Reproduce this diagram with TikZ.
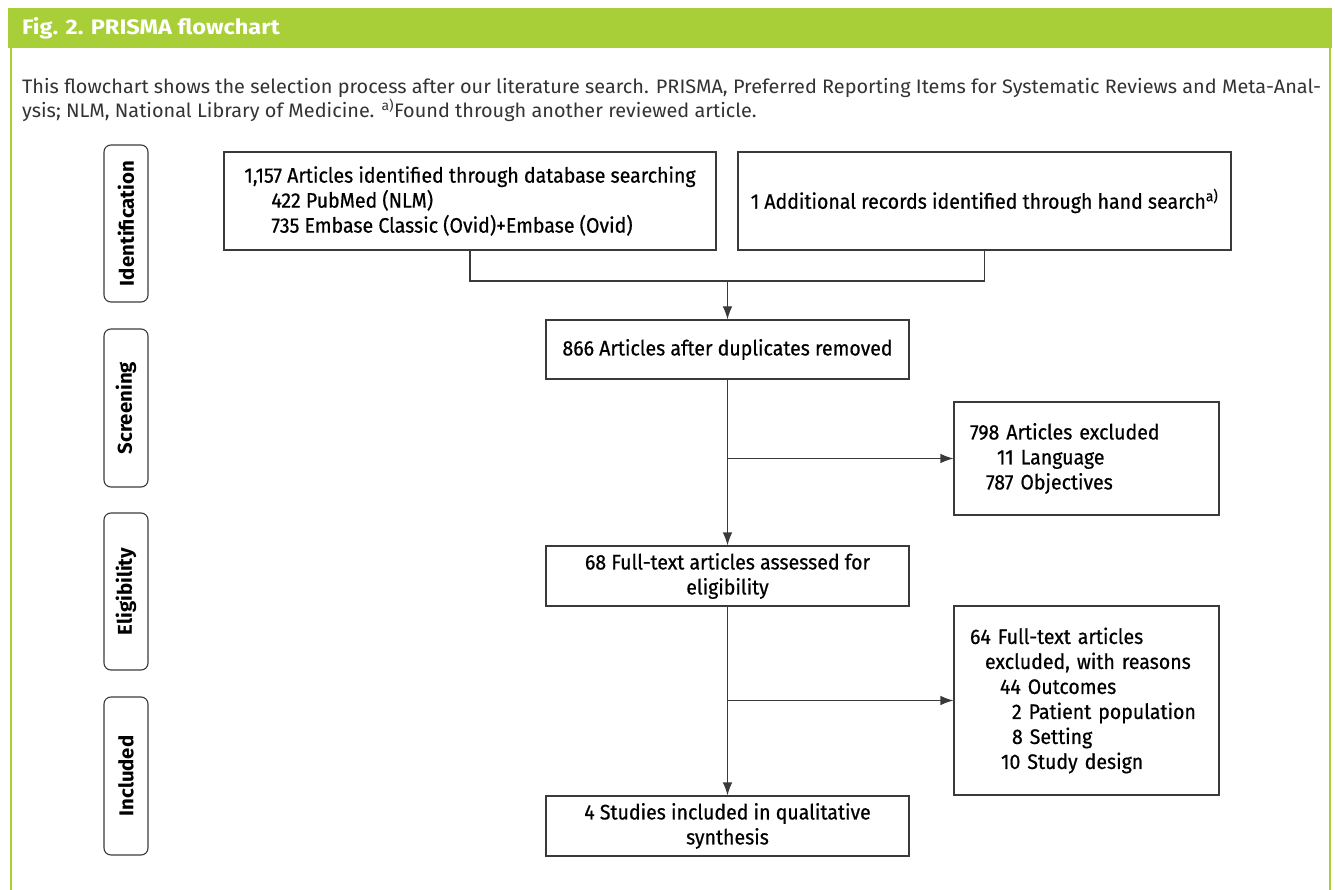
\documentclass[tikz,border=0pt]{standalone}
\usepackage{fontspec}
\setmainfont{Fira Sans}[FakeStretch=1.02]
\newfontfamily\boxfont{Fira Sans}[FakeStretch=0.93, FakeBold=0.6]
\newfontfamily\titlefont{Fira Sans}[FakeStretch=1.12]
\usetikzlibrary{arrows.meta}
\definecolor{hgreen}{HTML}{A8CF38}
\definecolor{lgray}{HTML}{3A3A3A}
\definecolor{capgray}{HTML}{333333}
\tikzset{
  box/.style={draw=lgray, line width=1.1pt, rectangle, inner sep=0pt, align=center, font=\boxfont\fontsize{21}{25}\selectfont, text=black},
  sidebox/.style={box, align=left, inner xsep=16pt},
  stagebox/.style={draw=lgray, line width=1.1pt, rounded corners=7pt, rotate=90, minimum height=44pt, inner sep=0pt, font=\fontsize{20}{22}\selectfont\bfseries, text=black},
  conn/.style={draw=lgray, line width=1.1pt},
  arr/.style={conn, -{Latex[length=13pt,width=9.5pt]}},
  capline/.style={anchor=base west, inner sep=0pt, font=\fontsize{19.5}{22}\selectfont, text=capgray}
}
\begin{document}
\begin{tikzpicture}[x=1pt,y=-1pt]
\useasboundingbox (0,0) rectangle (1335,890);
% frame
\fill[hgreen] (8,8) rectangle (1332,48);
\fill[hgreen] (10,48) rectangle (12,890);
\fill[hgreen] (1329,48) rectangle (1331,890);
\node[anchor=base west, inner sep=0pt, text=white, font=\titlefont\fontsize{21}{24}\selectfont\bfseries] (title) at (22,35) {Fig. 2. PRISMA flowchart};
\node[capline] (cap1) at (22,94) {This flowchart shows the selection process after our literature search. PRISMA, Preferred Reporting Items for Systematic Reviews and Meta-Anal-};
\node[capline] (cap2) at (22,118) {ysis; NLM, National Library of Medicine. \textsuperscript{a)}Found through another reviewed article.};
% stages
\node[stagebox, minimum width=157pt] (s1) at (126,223.5) {Identification};
\node[stagebox, minimum width=158pt] (s2) at (126,408) {Screening};
\node[stagebox, minimum width=157pt] (s3) at (126,591.5) {Eligibility};
\node[stagebox, minimum width=158pt] (s4) at (126,776) {Included};
% boxes
\node[box, align=left, minimum width=492pt, minimum height=98pt] (A) at (470,201)
  {1,157 Articles identified through database searching\\
   \hspace*{27pt}422 PubMed (NLM)\\
   \hspace*{27pt}735 Embase Classic (Ovid)+Embase (Ovid)};
\node[box, minimum width=493pt, minimum height=98pt] (B) at (984.5,201)
  {1 Additional records identified through hand search\textsuperscript{a)}};
\node[box, minimum width=363pt, minimum height=59pt] (C) at (727.5,349.5)
  {866 Articles after duplicates removed};
\node[box, minimum width=363pt, minimum height=60pt] (D) at (727.5,576)
  {68 Full-text articles assessed for\\eligibility};
\node[box, minimum width=363pt, minimum height=60pt] (F) at (727.5,826)
  {4 Studies included in qualitative\\synthesis};
\node[sidebox, text width=233pt, minimum height=113pt] (E) at (1086.5,458.5)
  {798 Articles excluded\\
   \hspace*{27pt}11 Language\\
   \hspace*{16pt}787 Objectives};
\node[sidebox, text width=233pt, minimum height=189pt] (G) at (1086.5,700.5)
  {64 Full-text articles\\
   \hspace*{15pt}excluded, with reasons\\
   \hspace*{30pt}44 Outcomes\\
   \hspace*{42pt}2 Patient population\\
   \hspace*{42pt}8 Setting\\
   \hspace*{31pt}10 Study design};
% connectors
\coordinate (m) at (727.5,281);
\draw[conn] (A.south) |- (m) -| (B.south);
\draw[arr] (m) -- (C.north);
\draw[arr] (C.south) -- (D.north);
\draw[arr] (C.south |- E.west) -- (E.west);
\draw[arr] (D.south) -- (F.north);
\draw[arr] (D.south |- G.west) -- (G.west);
\end{tikzpicture}
\end{document}
